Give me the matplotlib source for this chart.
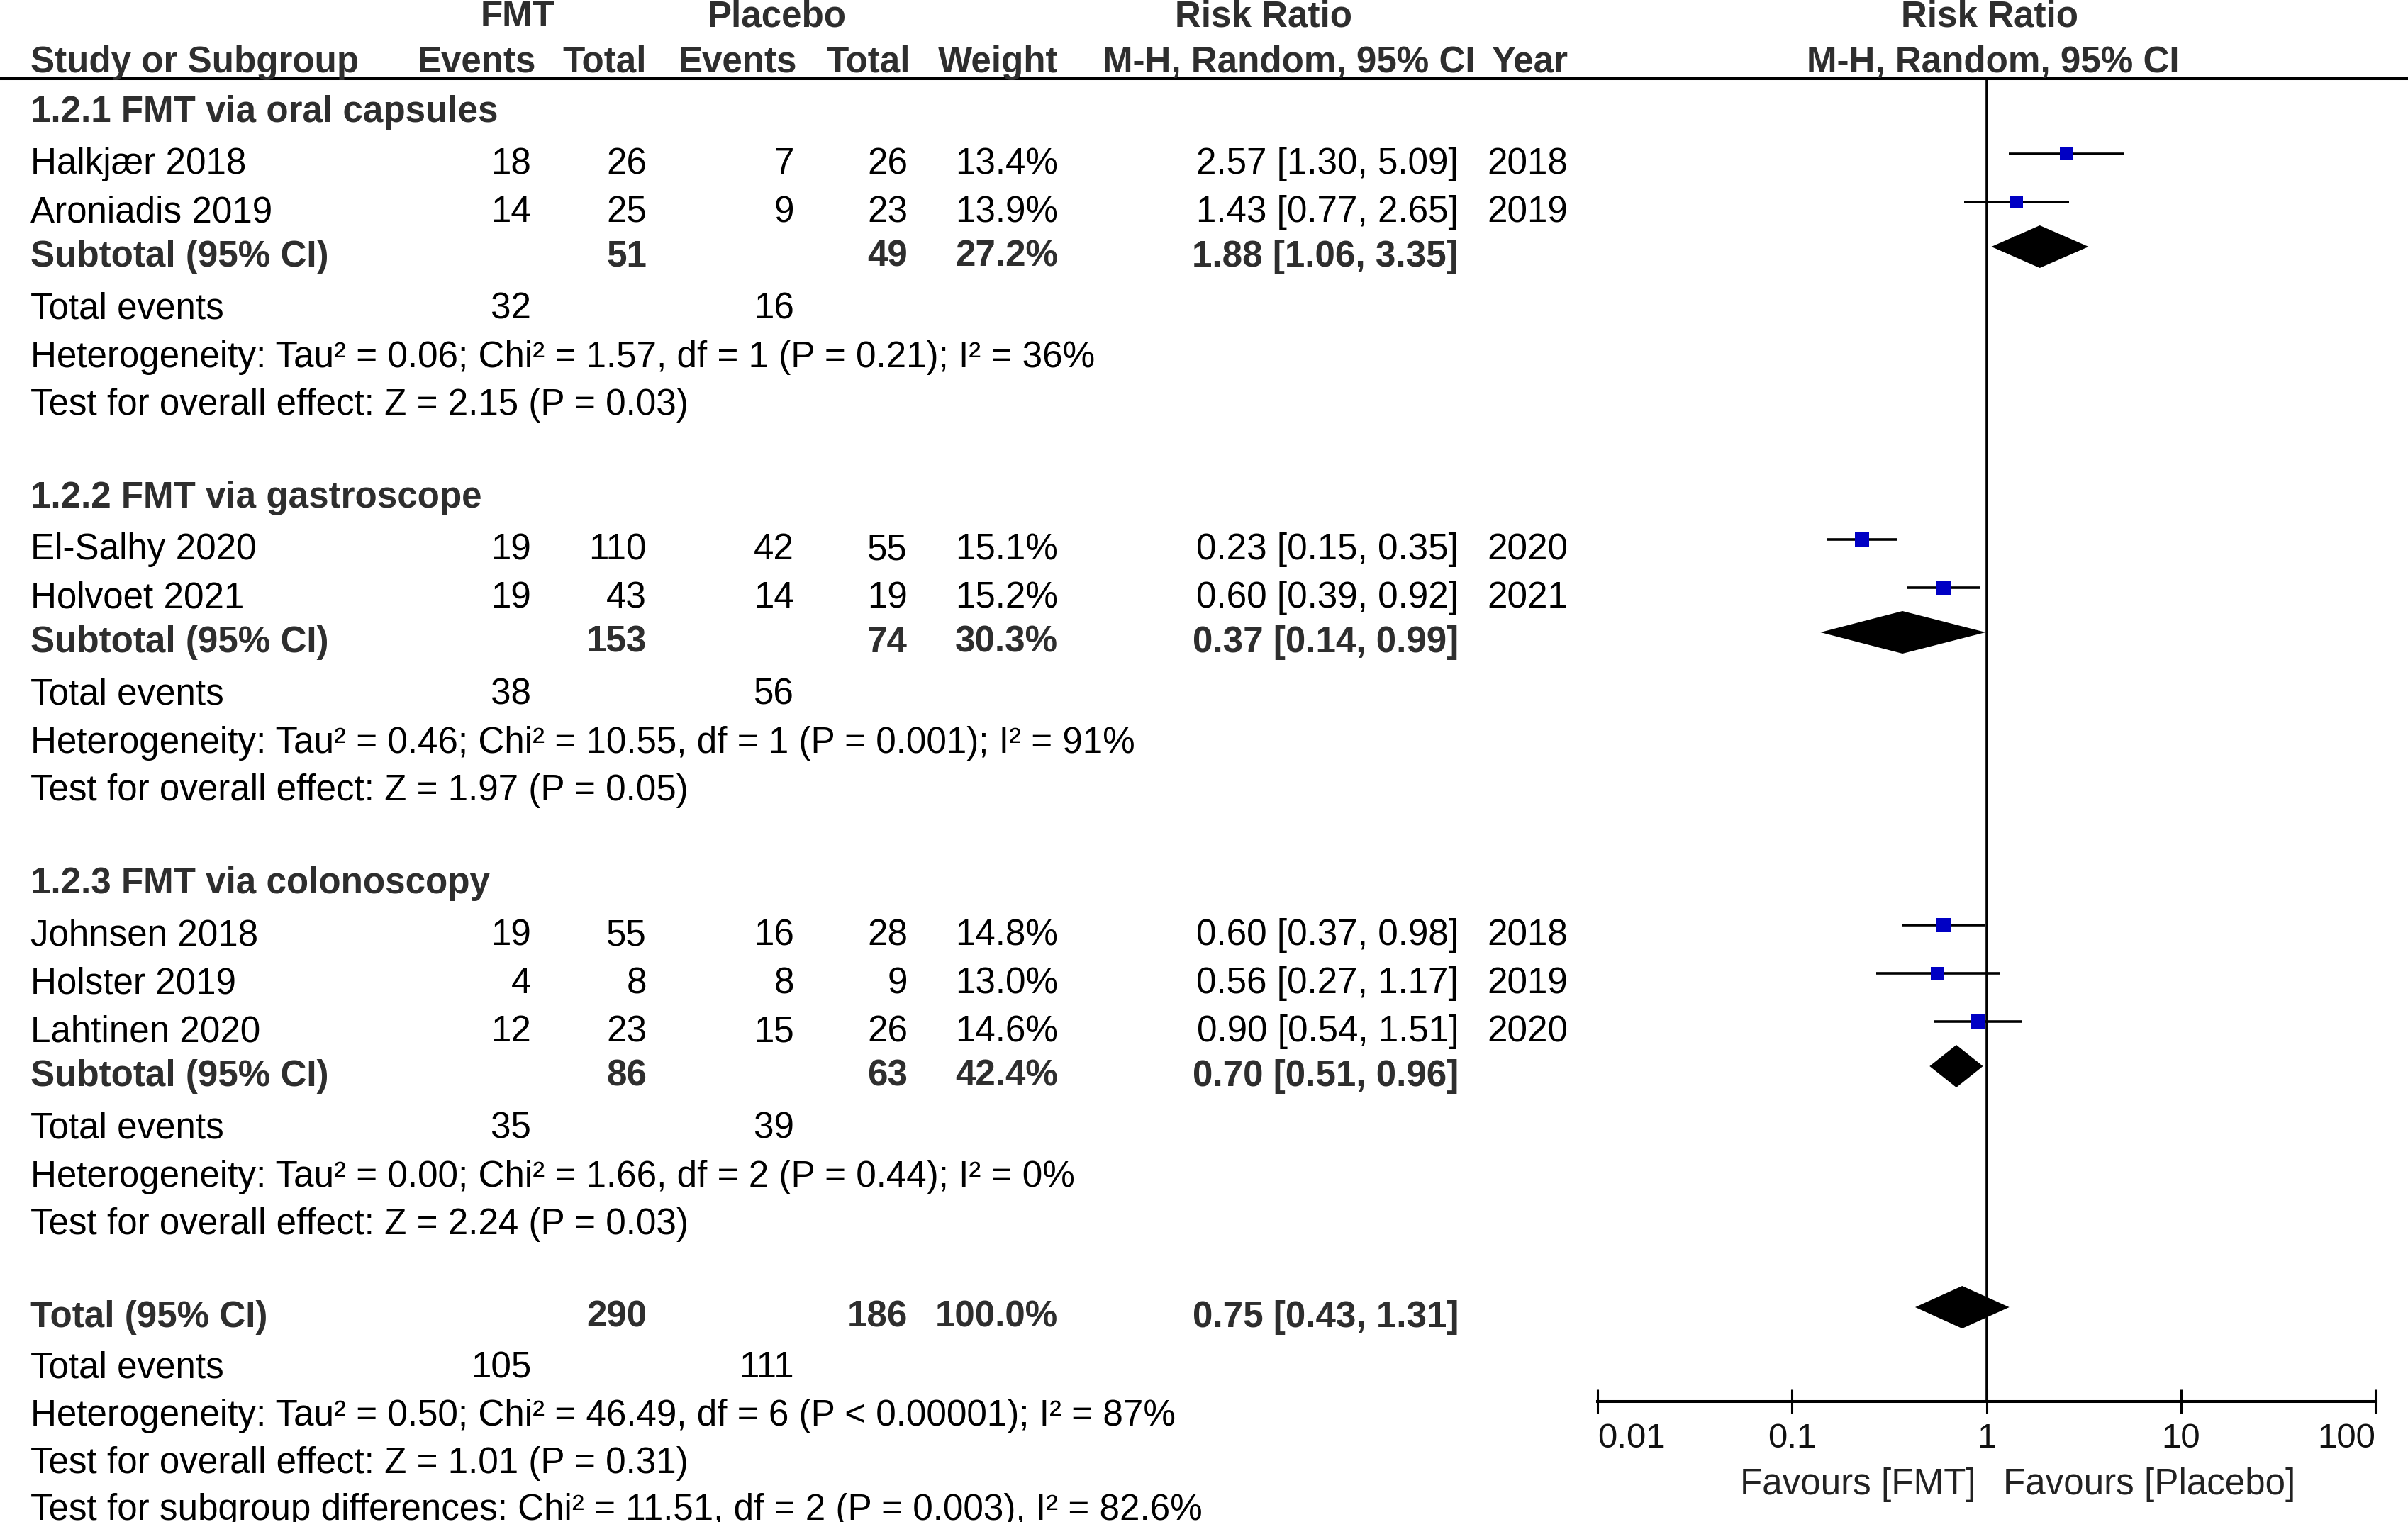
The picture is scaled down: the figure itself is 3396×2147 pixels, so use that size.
import matplotlib.pyplot as plt
from matplotlib.ticker import NullLocator

plt.rcParams['font.family'] = ['Liberation Sans', 'DejaVu Sans']

# ---- data ----
studies = ["Halkjær 2018", "Aroniadis 2019", "El-Salhy 2020", "Holvoet 2021",
           "Johnsen 2018", "Holster 2019", "Lahtinen 2020"]
group_of = [0, 0, 1, 1, 2, 2, 2]
fmt_events = [18, 14, 19, 19, 19, 4, 12]
fmt_total = [26, 25, 110, 43, 55, 8, 23]
pl_events = [7, 9, 42, 14, 16, 8, 15]
pl_total = [26, 23, 55, 19, 28, 9, 26]
weights = [13.4, 13.9, 15.1, 15.2, 14.8, 13.0, 14.6]
rr = [2.57, 1.43, 0.23, 0.60, 0.60, 0.56, 0.90]
rr_lo = [1.30, 0.77, 0.15, 0.39, 0.37, 0.27, 0.54]
rr_hi = [5.09, 2.65, 0.35, 0.92, 0.98, 1.17, 1.51]
years = [2018, 2019, 2020, 2021, 2018, 2019, 2020]

group_titles = ["1.2.1 FMT via oral capsules", "1.2.2 FMT via gastroscope",
                "1.2.3 FMT via colonoscopy"]
sub_fmt_total = [51, 153, 86]
sub_pl_total = [49, 74, 63]
sub_weight = [27.2, 30.3, 42.4]
sub_rr = [1.88, 0.37, 0.70]
sub_lo = [1.06, 0.14, 0.51]
sub_hi = [3.35, 0.99, 0.96]
sub_fmt_events = [32, 38, 35]
sub_pl_events = [16, 56, 39]
sub_het = ["Heterogeneity: Tau² = 0.06; Chi² = 1.57, df = 1 (P = 0.21); I² = 36%",
           "Heterogeneity: Tau² = 0.46; Chi² = 10.55, df = 1 (P = 0.001); I² = 91%",
           "Heterogeneity: Tau² = 0.00; Chi² = 1.66, df = 2 (P = 0.44); I² = 0%"]
sub_test = ["Test for overall effect: Z = 2.15 (P = 0.03)",
            "Test for overall effect: Z = 1.97 (P = 0.05)",
            "Test for overall effect: Z = 2.24 (P = 0.03)"]

tot_fmt_total, tot_pl_total, tot_weight = 290, 186, 100.0
tot_rr, tot_lo, tot_hi = 0.75, 0.43, 1.31
tot_fmt_events, tot_pl_events = 105, 111
tot_het = "Heterogeneity: Tau² = 0.50; Chi² = 46.49, df = 6 (P < 0.00001); I² = 87%"
tot_test = "Test for overall effect: Z = 1.01 (P = 0.31)"
sub_diff = "Test for subgroup differences: Chi² = 11.51, df = 2 (P = 0.003), I² = 82.6%"

ticks = [0.01, 0.1, 1, 10, 100]
tick_labels = ["0.01", "0.1", "1", "10", "100"]

# ---- layout (pixels from top-left) ----
W, H = 3396, 2147
FS = 36.8
DARK = '#2e2e2e'
X_LEFT = 43
C_FE, C_FT, C_PE, C_PT, C_W, C_RR, C_YR = 749, 912, 1120, 1280, 1492, 2057, 2211
Y_LINE = 111
Y_AXIS = 1977
FX0, FX1 = 2253, 3350
OFF = 28        # forest mark centre above text baseline
HALF_D = 30     # half height of diamonds

fig = plt.figure(figsize=(W / 100, H / 100), dpi=100)
tab = fig.add_axes([0, 0, 1, 1])
tab.set_xlim(0, W)
tab.set_ylim(H, 0)
tab.axis('off')

fa = fig.add_axes([FX0 / W, 1 - Y_AXIS / H, (FX1 - FX0) / W, (Y_AXIS - Y_LINE) / H])
fa.set_xscale('log')
fa.set_xlim(0.01, 100)
fa.set_ylim(Y_AXIS, Y_LINE)
fa.patch.set_alpha(0)
for s in ['top', 'right', 'left']:
    fa.spines[s].set_visible(False)
fa.spines['bottom'].set_linewidth(2.9)
fa.set_yticks([])
fa.set_xticks(ticks, tick_labels)
fa.xaxis.set_minor_locator(NullLocator())
fa.tick_params(axis='x', direction='inout', length=24.5, width=2.2,
               labelsize=35.5, pad=9.5, labelcolor='#111111')
lbls = fa.get_xticklabels()
lbls[0].set_ha('left')
lbls[-1].set_ha('right')
fa.axvline(1, color='black', lw=2.6, zorder=1)


def cell(x, y, s, bold=False, ha='right', size=FS):
    tab.text(x, y, s, ha=ha, va='baseline', fontsize=size,
             fontweight='bold' if bold else 'normal',
             color=DARK if bold else 'black')


def diamond(y, est, lo, hi):
    yc = y - OFF
    fa.fill([lo, est, hi, est], [yc, yc - HALF_D, yc, yc + HALF_D],
            color='black', lw=0, zorder=3)


# header
cell(730, 37, "FMT", True, 'center')
cell(1096, 37, "Placebo", True, 'center')
cell(1782, 37, "Risk Ratio", True, 'center')
cell(2806, 37, "Risk Ratio", True, 'center')
cell(X_LEFT, 102, "Study or Subgroup", True, 'left')
cell(756, 102, "Events", True)
cell(C_FT, 102, "Total", True)
cell(1124, 102, "Events", True)
cell(1284, 102, "Total", True)
cell(C_W, 102, "Weight", True)
cell(1818, 102, "M-H, Random, 95% CI", True, 'center')
cell(C_YR, 102, "Year", True)
cell(2811, 102, "M-H, Random, 95% CI", True, 'center')
tab.axhline(Y_LINE, color='black', lw=2.9)

y = 172
for g in range(3):
    cell(X_LEFT, y, group_titles[g], True, 'left')
    idx = [i for i in range(len(studies)) if group_of[i] == g]
    for k, i in enumerate(idx):
        y += 73 if k == 0 else 68
        cell(X_LEFT, y, studies[i], ha='left')
        cell(C_FE, y, str(fmt_events[i]))
        cell(C_FT, y, str(fmt_total[i]))
        cell(C_PE, y, str(pl_events[i]))
        cell(C_PT, y, str(pl_total[i]))
        cell(C_W, y, f"{weights[i]:.1f}%")
        cell(C_RR, y, f"{rr[i]:.2f} [{rr_lo[i]:.2f}, {rr_hi[i]:.2f}]")
        cell(C_YR, y, str(years[i]))
        fa.plot([rr_lo[i], rr_hi[i]], [y - OFF, y - OFF], color='black',
                lw=2.6, solid_capstyle='butt', zorder=2)
        side = 14 * (weights[i] / 15.1) ** 0.5
        fa.plot([rr[i]], [y - OFF], marker='s', ms=side, mew=0,
                color='#0000c4', zorder=4)
    y += 63
    cell(X_LEFT, y, "Subtotal (95% CI)", True, 'left')
    cell(C_FT, y, str(sub_fmt_total[g]), True)
    cell(C_PT, y, str(sub_pl_total[g]), True)
    cell(C_W, y, f"{sub_weight[g]:.1f}%", True)
    cell(C_RR, y, f"{sub_rr[g]:.2f} [{sub_lo[g]:.2f}, {sub_hi[g]:.2f}]", True)
    diamond(y, sub_rr[g], sub_lo[g], sub_hi[g])
    y += 73
    cell(X_LEFT, y, "Total events", ha='left')
    cell(C_FE, y, str(sub_fmt_events[g]))
    cell(C_PE, y, str(sub_pl_events[g]))
    y += 69
    cell(X_LEFT, y, sub_het[g], ha='left')
    y += 67
    cell(X_LEFT, y, sub_test[g], ha='left')
    y += 131

cell(X_LEFT, y, "Total (95% CI)", True, 'left')
cell(C_FT, y, str(tot_fmt_total), True)
cell(C_PT, y, str(tot_pl_total), True)
cell(C_W, y, f"{tot_weight:.1f}%", True)
cell(C_RR, y, f"{tot_rr:.2f} [{tot_lo:.2f}, {tot_hi:.2f}]", True)
diamond(y, tot_rr, tot_lo, tot_hi)
y += 71
cell(X_LEFT, y, "Total events", ha='left')
cell(C_FE, y, str(tot_fmt_events))
cell(C_PE, y, str(tot_pl_events))
y += 68
cell(X_LEFT, y, tot_het, ha='left')
y += 67
cell(X_LEFT, y, tot_test, ha='left')
y += 66
cell(X_LEFT, y, sub_diff, ha='left')

# favours labels under the axis
tab.text(2787, 2108, "Favours [FMT]", ha='right', va='baseline', fontsize=FS, color='#222222')
tab.text(2825, 2108, "Favours [Placebo]", ha='left', va='baseline', fontsize=FS, color='#222222')

fig.savefig("out.png", dpi=100)
